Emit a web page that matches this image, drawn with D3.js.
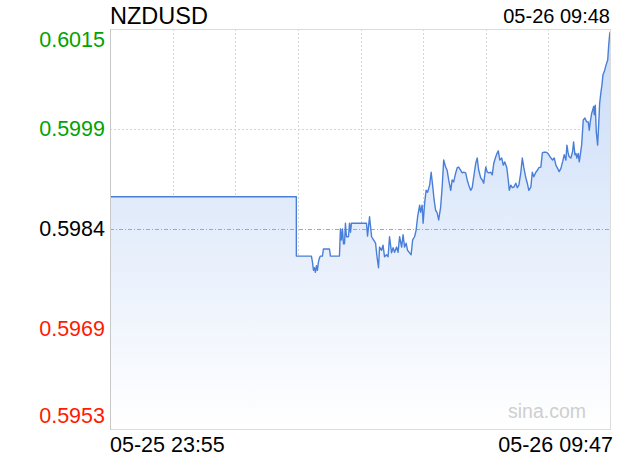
<!DOCTYPE html>
<html>
<head>
<meta charset="utf-8">
<script src="https://cdn.jsdelivr.net/npm/d3@7"></script>
<style>
  html, body { margin: 0; padding: 0; background: #fff; }
  svg { display: block; font-family: "Liberation Sans", Arial, sans-serif; }
</style>
</head>
<body>
<svg id="chart" width="620" height="460"></svg>
<script>
//
// Data
//
const symbol = 'NZDUSD';
const stamp = '05-26 09:48';
const prevClose = 0.5984;
const xLabels = ['05-25 23:55', '05-26 09:47'];
const yTicks = [0.60150, 0.59995, 0.59840, 0.59685, 0.59530];
const yTickLabels = ['0.6015', '0.5999', '0.5984', '0.5969', '0.5953'];
// minutes after 05-25 23:55
const times = [
  0, 220.2, 220.2, 238.0, 239.2, 240.4, 241.5, 242.7, 243.9, 245.1,
  246.3, 247.5, 248.6, 251.0, 252.2, 259.3, 260.5, 271.1, 272.3, 273.5,
  274.7, 275.9, 277.1, 278.2, 279.4, 281.8, 283.0, 284.2, 285.3, 303.1,
  304.3, 306.7, 309.1, 311.4, 313.8, 315.5, 317.3, 318.5, 320.9, 322.6,
  324.4, 326.8, 328.6, 330.3, 332.7, 334.5, 336.3, 338.6, 340.4, 342.2,
  344.6, 346.3, 348.1, 349.9, 351.6, 354.0, 355.8, 357.6, 359.9, 361.7,
  363.5, 365.9, 367.0, 368.8, 370.0, 371.8, 373.5, 375.3, 377.7, 379.5,
  381.2, 383.0, 384.8, 386.6, 388.4, 390.7, 392.5, 394.3, 396.6, 398.4,
  400.2, 402.6, 404.3, 406.1, 408.5, 410.3, 412.0, 414.4, 416.2, 418.0,
  420.3, 422.1, 423.9, 426.2, 428.0, 429.8, 432.2, 433.9, 435.7, 438.1,
  439.9, 441.6, 444.0, 445.8, 447.6, 449.9, 451.7, 453.5, 455.8, 457.6,
  458.8, 460.6, 462.9, 464.7, 466.5, 468.9, 470.6, 471.8, 473.6, 475.4,
  477.2, 479.5, 481.3, 483.1, 485.4, 487.2, 489.0, 491.4, 493.1, 494.9,
  497.3, 499.0, 500.8, 503.2, 505.0, 506.8, 509.1, 510.9, 512.7, 515.0,
  516.8, 518.6, 521.0, 523.0, 524.9, 526.9, 528.9, 530.8, 532.8, 534.8,
  536.7, 538.7, 539.9, 541.4, 542.6, 544.6, 546.6, 547.8, 549.4, 550.6,
  551.7, 553.3, 554.5, 555.7, 557.3, 559.2, 561.2, 563.2, 565.1, 566.3,
  567.5, 569.1, 570.3, 571.5, 572.2, 573.4, 574.6, 576.2, 577.4, 578.6,
  580.2, 581.3, 582.5, 584.1, 586.1, 588.1, 589.3, 590.5, 591.2
];
const prices = [
  0.59890, 0.59890, 0.59798, 0.59798, 0.59789, 0.59776, 0.59780, 0.59773, 0.59783, 0.59776,
  0.59789, 0.59795, 0.59798, 0.59798, 0.59809, 0.59809, 0.59798, 0.59798, 0.59840, 0.59823,
  0.59840, 0.59817, 0.59817, 0.59849, 0.59828, 0.59828, 0.59849, 0.59835, 0.59849, 0.59849,
  0.59829, 0.59859, 0.59828, 0.59823, 0.59818, 0.59797, 0.59780, 0.59812, 0.59807, 0.59815,
  0.59797, 0.59800, 0.59797, 0.59828, 0.59803, 0.59811, 0.59804, 0.59812, 0.59804, 0.59828,
  0.59812, 0.59831, 0.59812, 0.59818, 0.59807, 0.59803, 0.59800, 0.59823, 0.59828, 0.59838,
  0.59859, 0.59877, 0.59866, 0.59877, 0.59849, 0.59880, 0.59900, 0.59897, 0.59908, 0.59928,
  0.59908, 0.59885, 0.59869, 0.59865, 0.59854, 0.59874, 0.59905, 0.59947, 0.59936, 0.59931,
  0.59916, 0.59900, 0.59916, 0.59913, 0.59927, 0.59935, 0.59936, 0.59931, 0.59927, 0.59928,
  0.59927, 0.59916, 0.59908, 0.59900, 0.59904, 0.59921, 0.59942, 0.59950, 0.59931, 0.59919,
  0.59916, 0.59911, 0.59936, 0.59928, 0.59927, 0.59928, 0.59924, 0.59942, 0.59952, 0.59958,
  0.59961, 0.59947, 0.59950, 0.59939, 0.59944, 0.59935, 0.59916, 0.59900, 0.59908, 0.59904,
  0.59905, 0.59911, 0.59904, 0.59908, 0.59927, 0.59950, 0.59935, 0.59919, 0.59911, 0.59900,
  0.59905, 0.59928, 0.59921, 0.59928, 0.59931, 0.59935, 0.59936, 0.59958, 0.59959, 0.59959,
  0.59958, 0.59955, 0.59950, 0.59947, 0.59950, 0.59939, 0.59934, 0.59929, 0.59934, 0.59944,
  0.59955, 0.59947, 0.59970, 0.59957, 0.59952, 0.59950, 0.59960, 0.59975, 0.59955, 0.59957,
  0.59950, 0.59957, 0.59944, 0.59955, 0.59970, 0.60009, 0.60012, 0.60006, 0.60006, 0.59993,
  0.60006, 0.60019, 0.60024, 0.60030, 0.60017, 0.60032, 0.59991, 0.59970, 0.60001, 0.60035,
  0.60053, 0.60063, 0.60079, 0.60084, 0.60094, 0.60102, 0.60125, 0.60143, 0.60146
];

//
// Layout
//
const width = 620, height = 460;
const plot = {left: 110, right: 611, top: 29, bottom: 429};
const colorLine = '#4a7fd8';
const colorUp = '#00a300';
const colorDown = '#ff1a00';

const svg = d3.select('#chart');
const x = d3.scaleLinear().domain([0, 592]).range([plot.left, plot.right]);
const y = d3.scaleLinear().domain([0.5953, 0.6015]).range([plot.bottom, plot.top]);
const data = times.map((t, i) => ({t: t, v: prices[i]}));

// gradient under the line
const defs = svg.append('defs');
const grad = defs.append('linearGradient')
    .attr('id', 'fillGrad')
    .attr('gradientUnits', 'userSpaceOnUse')
    .attr('x1', 0).attr('y1', plot.top)
    .attr('x2', 0).attr('y2', plot.bottom);
grad.append('stop').attr('offset', '0%').attr('stop-color', '#c8dbf8');
grad.append('stop').attr('offset', '50%').attr('stop-color', '#e4edfb');
grad.append('stop').attr('offset', '100%').attr('stop-color', '#ffffff');

// vertical grid
const cols = 8;
const colW = (plot.right - plot.left) / cols;
svg.append('g')
  .selectAll('line')
  .data(d3.range(1, cols))
  .join('line')
    .attr('x1', d => Math.round(plot.left + d * colW) + 0.5)
    .attr('x2', d => Math.round(plot.left + d * colW) + 0.5)
    .attr('y1', plot.top)
    .attr('y2', plot.bottom)
    .attr('stroke', '#d4d4d4')
    .attr('stroke-dasharray', '2,2');

// horizontal grid
svg.append('g')
  .selectAll('line')
  .data([yTicks[1], yTicks[3]])
  .join('line')
    .attr('x1', plot.left)
    .attr('x2', plot.right)
    .attr('y1', d => Math.round(y(d)) + 0.5)
    .attr('y2', d => Math.round(y(d)) + 0.5)
    .attr('stroke', '#d4d4d4')
    .attr('stroke-dasharray', '2,2');

// area + line
svg.append('path')
    .datum(data)
    .attr('fill', 'url(#fillGrad)')
    .attr('d', d3.area().x(d => x(d.t)).y0(plot.bottom).y1(d => y(d.v)));

// previous close line
svg.append('line')
    .attr('x1', plot.left)
    .attr('x2', plot.right)
    .attr('y1', Math.round(y(yTicks[2])) + 0.5)
    .attr('y2', Math.round(y(yTicks[2])) + 0.5)
    .attr('stroke', '#a8a8a8')
    .attr('stroke-dasharray', '4,2,1,2');

svg.append('path')
    .datum(data)
    .attr('fill', 'none')
    .attr('stroke', colorLine)
    .attr('stroke-width', 1.4)
    .attr('stroke-linejoin', 'round')
    .attr('d', d3.line().x(d => x(d.t)).y(d => y(d.v)));

// frame
svg.append('rect')
    .attr('x', plot.left + 0.5)
    .attr('y', plot.top + 0.5)
    .attr('width', plot.right - plot.left - 1)
    .attr('height', plot.bottom - plot.top)
    .attr('fill', 'none')
    .attr('stroke', '#dcdcdc');
svg.append('line')
    .attr('x1', plot.left + 0.5).attr('x2', plot.left + 0.5)
    .attr('y1', plot.top).attr('y2', plot.bottom + 1)
    .attr('stroke', '#c8c8c8');

// y labels
svg.append('g')
  .selectAll('text')
  .data(yTicks)
  .join('text')
    .attr('x', plot.left - 5)
    .attr('y', (d, i) => i === 0 ? y(d) + 18 : i === yTicks.length - 1 ? y(d) - 6 : y(d) + 7)
    .attr('text-anchor', 'end')
    .attr('font-size', 21.5)
    .attr('fill', (d, i) => i === 2 ? '#000' : d > prevClose ? colorUp : colorDown)
    .text((d, i) => yTickLabels[i]);

// x labels
svg.append('text')
    .attr('x', plot.left)
    .attr('y', 452)
    .attr('font-size', 21.5)
    .attr('fill', '#000')
    .text(xLabels[0]);
svg.append('text')
    .attr('x', plot.right + 2)
    .attr('y', 452)
    .attr('text-anchor', 'end')
    .attr('font-size', 21.5)
    .attr('fill', '#000')
    .text(xLabels[1]);

// header
svg.append('text')
    .attr('x', plot.left)
    .attr('y', 24)
    .attr('font-size', 23.5)
    .attr('fill', '#000')
    .text(symbol);
svg.append('text')
    .attr('x', plot.right - 1)
    .attr('y', 23)
    .attr('text-anchor', 'end')
    .attr('font-size', 20)
    .attr('fill', '#000')
    .text(stamp);

// watermark
svg.append('text')
    .attr('x', 586)
    .attr('y', 418)
    .attr('text-anchor', 'end')
    .attr('font-size', 19.5)
    .attr('fill', '#cfcfcf')
    .text('sina.com');
</script>
</body>
</html>
